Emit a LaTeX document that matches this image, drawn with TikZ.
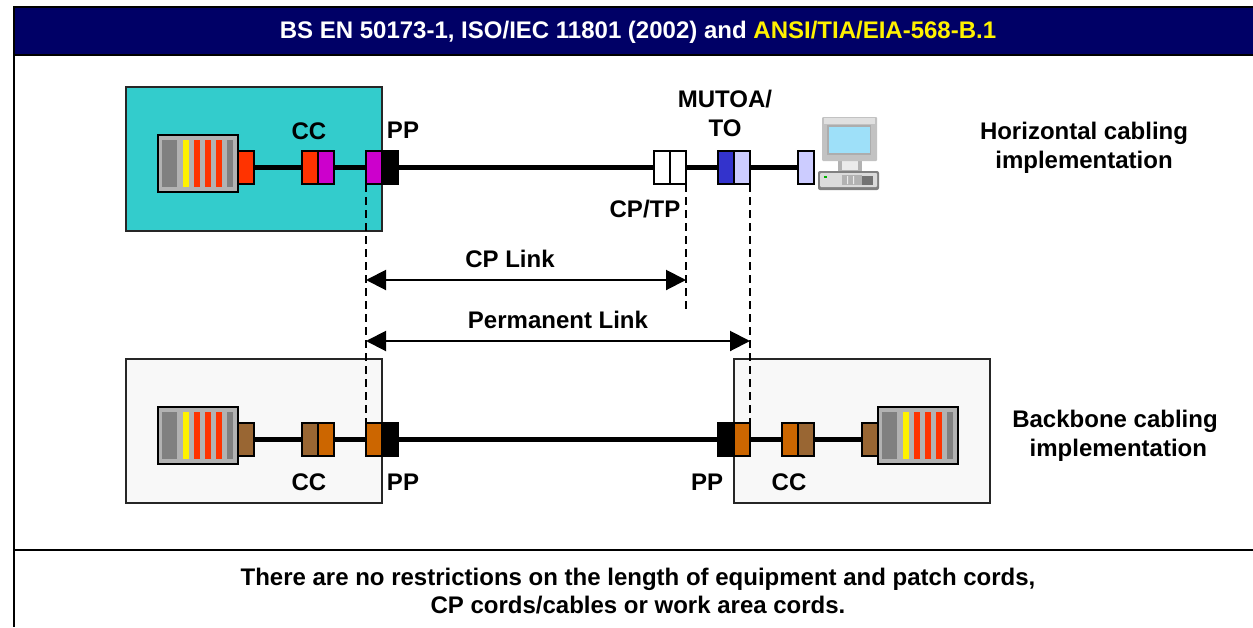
\documentclass[tikz,border=0pt]{standalone}
\usepackage{fontspec}
\setmainfont{Liberation Sans}
\usetikzlibrary{arrows.meta}
\definecolor{navy}{HTML}{000066}
\definecolor{teal2}{HTML}{33CCCC}
\definecolor{pale}{HTML}{F8F8F8}
\definecolor{red2}{HTML}{FF3300}
\definecolor{purp}{HTML}{CC00CC}
\definecolor{blue2}{HTML}{3333CC}
\definecolor{lav}{HTML}{CCCCFF}
\definecolor{brown2}{HTML}{996633}
\definecolor{orange2}{HTML}{CC6600}
\definecolor{rackg}{HTML}{B2B2B2}
\definecolor{darkg}{HTML}{808080}
\tikzset{
  x=1pt,y=-1pt,
  lbl/.style={font=\fontsize{24}{29}\selectfont\bfseries,align=center,inner sep=0pt,text=black},
  area/.style={draw=black!85,line width=1.7pt,outer sep=0pt},
  plug/.style={draw=black,line width=2.6pt,minimum width=16pt,minimum height=33pt,inner sep=0pt,outer sep=0pt,anchor=west},
  rackbox/.style={draw=black,line width=2.6pt,fill=rackg,minimum width=80pt,minimum height=57pt,inner sep=0pt,outer sep=0pt,anchor=center},
  cord/.style={line width=5.2pt,black},
  dim/.style={dashed,dash pattern=on 8pt off 5pt,line width=2pt,black},
  span/.style={line width=2pt,black,{Triangle[length=20pt,width=20pt]}-{Triangle[length=20pt,width=20pt]}},
  rule/.style={line width=2pt,black}
}
\newcommand{\stripes}[2]{%
  \fill[darkg] (#1+4,#2-23.5) rectangle +(15,47);
  \fill[yellow] (#1+25,#2-23.5) rectangle +(6,47);
  \fill[red2] (#1+36,#2-23.5) rectangle +(6,47);
  \fill[red2] (#1+47,#2-23.5) rectangle +(6,47);
  \fill[red2] (#1+58,#2-23.5) rectangle +(6,47);
  \fill[darkg] (#1+69,#2-23.5) rectangle +(6,47);
}
\begin{document}
\begin{tikzpicture}
\useasboundingbox (0,0) rectangle (1253,627);
% header and frame
\node[fill=navy,draw=black,line width=2pt,outer sep=0pt,minimum width=1241pt,minimum height=48pt,inner sep=0pt,anchor=north west] (head) at (14,7) {};
\node[lbl,text=white] (title) at (638,32) {BS EN 50173-1, ISO/IEC 11801 (2002) and \textcolor{yellow}{ANSI/TIA/EIA-568-B.1}};
\coordinate (fl) at (14,55);
\coordinate (fb) at (14,627);
\coordinate (sl) at (14,550);
\coordinate (sr) at (1253,550);
\draw[rule] (fl) -- (fb);
\draw[rule] (sl) -- (sr);
% areas
\node[area,fill=teal2,minimum width=256pt,minimum height=144pt,inner sep=0pt,anchor=north west] (topa) at (126,87) {};
\node[area,fill=pale,minimum width=256pt,minimum height=144pt,inner sep=0pt,anchor=north west] (bla) at (126,359) {};
\node[area,fill=pale,minimum width=256pt,minimum height=144pt,inner sep=0pt,anchor=north west] (bra) at (734,359) {};
% top row
\node[rackbox] (r1) at (198,163.5) {};
\stripes{158}{163.5}
\node[plug,fill=red2] (t1) at (238,167.5) {};
\node[plug,fill=red2] (t2) at (302,167.5) {};
\node[plug,fill=purp] (t3) at (318,167.5) {};
\node[plug,fill=purp] (t4) at (366,167.5) {};
\node[plug,fill=black] (t5) at (382,167.5) {};
\node[plug,fill=white] (t6) at (654,167.5) {};
\node[plug,fill=white] (t7) at (670,167.5) {};
\node[plug,fill=blue2] (t8) at (718,167.5) {};
\node[plug,fill=lav] (t9) at (734,167.5) {};
\node[plug,fill=lav] (t10) at (798,167.5) {};
\draw[cord] (t1.east) -- (t2.west);
\draw[cord] (t3.east) -- (t4.west);
\draw[cord] (t5.east) -- (t6.west);
\draw[cord] (t7.east) -- (t8.west);
\draw[cord] (t9.east) -- (t10.west);
% computer
\fill[black!30] (838,154) rectangle (862,172);
\fill[black!8] (842,158) rectangle (858,170);
\fill[black!24,rounded corners=1pt] (822,117) rectangle (877,161);
\fill[black!12] (824,118) rectangle (875,124);
\fill[black!32] (827,125) rectangle (871,155);
\fill[cyan!38] (828.5,126.5) rectangle (869.5,153);
\fill[black!50,rounded corners=2pt] (818,171) rectangle (879,190);
\fill[black!14,rounded corners=1pt] (820,173) rectangle (877,187);
\fill[green!70!black] (824,175.5) rectangle +(2.5,2.5);
\fill[black!30] (842,175) rectangle +(20,10);
\fill[black!8] (847,176) rectangle +(1,8) (853,176) rectangle +(1,8);
\fill[black!55] (862,176) rectangle +(11,9);
% bottom left
\node[rackbox] (r2) at (198,435.5) {};
\stripes{158}{435.5}
\node[plug,fill=brown2] (b1) at (238,439.5) {};
\node[plug,fill=brown2] (b2) at (302,439.5) {};
\node[plug,fill=orange2] (b3) at (318,439.5) {};
\node[plug,fill=orange2] (b4) at (366,439.5) {};
\node[plug,fill=black] (b5) at (382,439.5) {};
% bottom right
\node[plug,fill=black] (c1) at (718,439.5) {};
\node[plug,fill=orange2] (c2) at (734,439.5) {};
\node[plug,fill=orange2] (c3) at (782,439.5) {};
\node[plug,fill=brown2] (c4) at (798,439.5) {};
\node[plug,fill=brown2] (c5) at (862,439.5) {};
\node[rackbox] (r3) at (918,435.5) {};
\stripes{878}{435.5}
\draw[cord] (b1.east) -- (b2.west);
\draw[cord] (b3.east) -- (b4.west);
\draw[cord] (b5.east) -- (c1.west);
\draw[cord] (c2.east) -- (c3.west);
\draw[cord] (c4.east) -- (c5.west);
% dashed guides
\coordinate (cpend) at (686,310);
\draw[dim] (t4.south west) -- (b4.north west);
\draw[dim] (t7.south east) -- (cpend);
\draw[dim] (t9.south east) -- (c2.north east);
% dimensions
\coordinate (al) at (366,280);
\coordinate (ar) at (686,280);
\coordinate (pl) at (366,341);
\coordinate (pr) at (750,341);
\draw[span] (al) -- (ar);
\draw[span] (pl) -- (pr);
% labels
\node[lbl] (lcc1) at (309,131) {CC};
\node[lbl] (lpp1) at (403,130) {PP};
\node[lbl] (lmut) at (725,113.5) {MUTOA/\\TO};
\node[lbl] (lcp) at (645,209) {CP/TP};
\node[lbl] (lhor) at (1084,148) {Horizontal cabling\\implementation};
\node[lbl] (lcpl) at (510,259) {CP Link};
\node[lbl] (lperm) at (558,320) {Permanent Link};
\node[lbl] (lcc2) at (309,482) {CC};
\node[lbl] (lpp2) at (403,482) {PP};
\node[lbl] (lpp3) at (707,482) {PP};
\node[lbl] (lcc3) at (789,482) {CC};
\node[lbl] (lbb) at (1115,436) {Backbone cabling\\\ implementation};
\node[lbl,font=\fontsize{24}{27.5}\selectfont\bfseries] (lfoot) at (638,591) {There are no restrictions on the length of equipment and patch cords,\\CP cords/cables or work area cords.};
\end{tikzpicture}
\end{document}
